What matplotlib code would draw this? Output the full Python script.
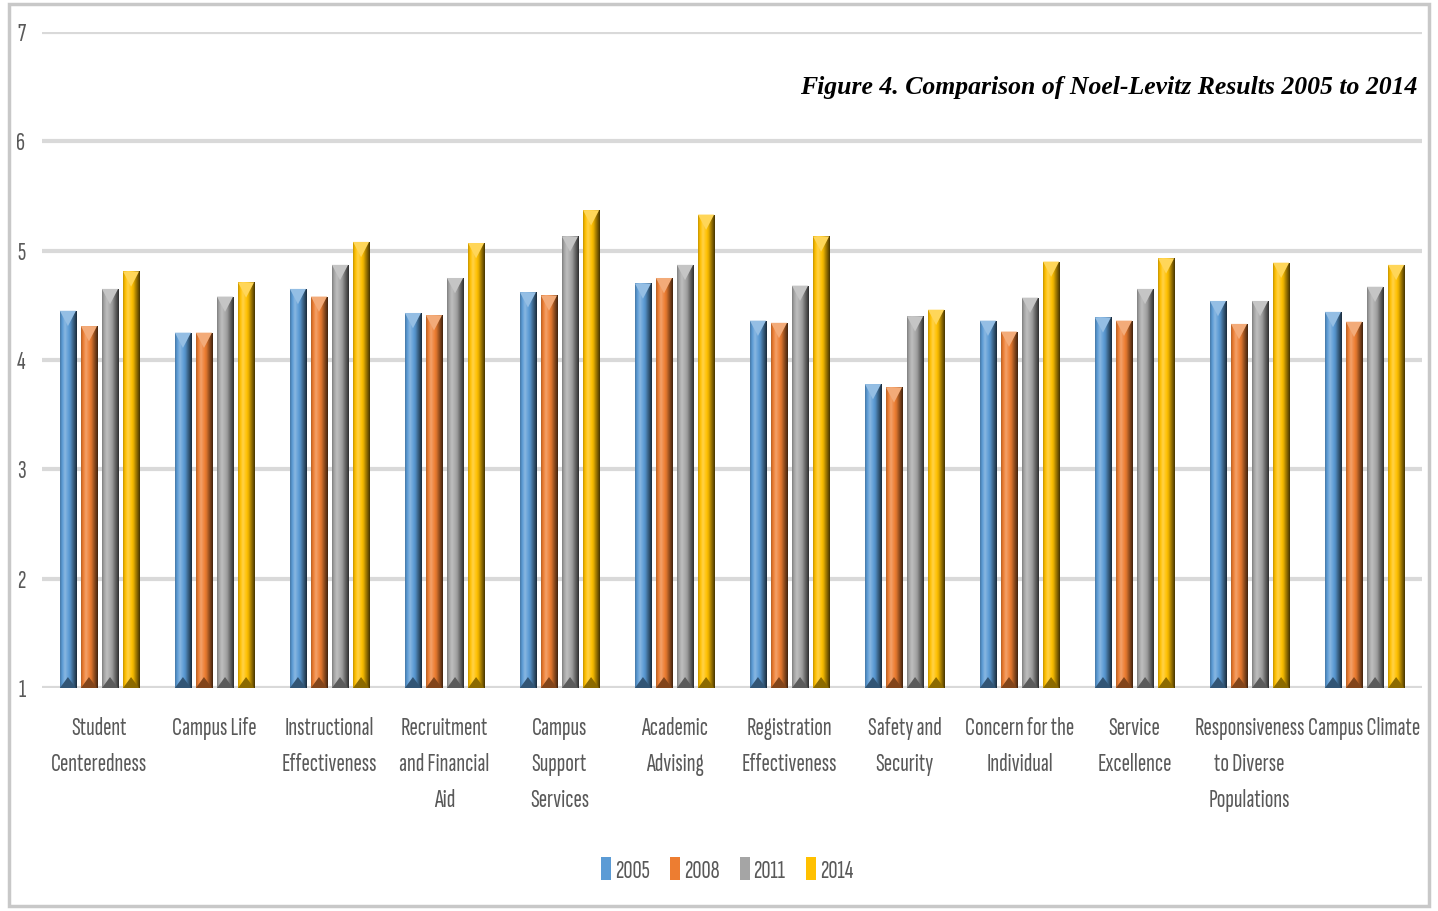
import matplotlib.pyplot as plt
import matplotlib.colors as mcolors
from matplotlib import font_manager as fm
from matplotlib.patches import Polygon, Rectangle
import numpy as np

categories = ["Student\nCenteredness", "Campus Life", "Instructional\nEffectiveness",
              "Recruitment\nand Financial\nAid", "Campus\nSupport\nServices",
              "Academic\nAdvising", "Registration\nEffectiveness", "Safety and\nSecurity",
              "Concern for the\nIndividual", "Service\nExcellence",
              "Responsiveness\nto Diverse\nPopulations", "Campus Climate"]
years = ["2005", "2008", "2011", "2014"]
v2005 = [4.45, 4.25, 4.65, 4.43, 4.62, 4.70, 4.36, 3.78, 4.36, 4.39, 4.54, 4.44]
v2008 = [4.31, 4.25, 4.58, 4.41, 4.59, 4.75, 4.34, 3.75, 4.26, 4.36, 4.33, 4.35]
v2011 = [4.65, 4.58, 4.87, 4.75, 5.13, 4.87, 4.68, 4.40, 4.57, 4.65, 4.54, 4.67]
v2014 = [4.81, 4.71, 5.08, 5.07, 5.37, 5.33, 5.13, 4.46, 4.90, 4.93, 4.89, 4.87]
series = [v2005, v2008, v2011, v2014]
colors = ["#5b9bd5", "#ed7d31", "#a5a5a5", "#ffc000"]
txtcol = "#595959"


def mix(c, f):
    c = np.array(mcolors.to_rgb(c))
    if f >= 1:
        return c + (1 - c) * (f - 1)
    return c * f


fig = plt.figure(figsize=(14.38, 9.11), dpi=100)
ax = fig.add_axes([0.0292, 0.2448, 0.9597, 0.7201])

# the original uses a tall narrow face (Calibri squeezed), pick the narrowest we have
cands = set()
for f in fm.fontManager.ttflist:
    if f.style == "normal" and f.weight in (400, "normal", "regular"):
        if ("Sans" in f.name or f.name in ("Roboto", "Lato", "Inter")) and "CJK" not in f.name \
                and "Mono" not in f.name:
            cands.add((f.name, str(f.stretch)))
renderer = fig.canvas.get_renderer()
best = None
for name, st in sorted(cands):
    t = fig.text(0, 0, "Responsiveness", family=name, stretch=st, fontsize=17)
    wpx = t.get_window_extent(renderer).width
    t.remove()
    if best is None or wpx < best[2]:
        best = (name, st, wpx)
fam, stretch = [best[0], "DejaVu Sans"], best[1]
fsz = min(20, 17 * 111 / best[2])

x = np.arange(len(categories))
w = 0.14
step = 0.183
prof = np.concatenate([np.linspace(0.8, 1.25, 6), np.linspace(1.25, 0.95, 6), np.linspace(0.9, 0.3, 8)])

for i, (vals, col) in enumerate(zip(series, colors)):
    pos = x + (i - 1.5) * step
    bars = ax.bar(pos, np.array(vals) - 1, w, bottom=1, color=col, label=years[i], zorder=3)
    grad = np.array([[mix(col, f) for f in prof]])
    for b, p, v in zip(bars, pos, vals):
        im = ax.imshow(np.clip(grad, 0, 1), extent=[p - w / 2, p + w / 2, 1, v],
                       aspect="auto", zorder=3.5, interpolation="bilinear")
        im.set_clip_path(b)
        ax.add_patch(Polygon([(p - w / 2, v), (p + w / 2, v), (p, v - 0.14)],
                             closed=True, color=mix(col, 1.35), zorder=4, lw=0))
        ax.add_patch(Polygon([(p - w / 2, 1), (p + w / 2, 1), (p, 1.1)],
                             closed=True, color=mix(col, 0.55), zorder=4, lw=0))

ax.set_xlim(-0.5, len(categories) - 0.5)
ax.set_ylim(1, 7)
ax.set_yticks(range(1, 8))
ax.yaxis.grid(True, color="#d9d9d9", lw=3)
ax.set_axisbelow(True)
for s in ax.spines.values():
    s.set_visible(False)
ax.tick_params(length=0)
ax.set_xticks(x)
ax.set_xticklabels(categories, family=fam, stretch=stretch, fontsize=fsz,
                   color=txtcol, linespacing=1.73)
ax.tick_params(axis="x", pad=21)
ax.tick_params(axis="y", pad=12)
for t in ax.get_yticklabels():
    t.set_family(fam)
    t.set_stretch(stretch)
    t.set_fontsize(fsz)
    t.set_color(txtcol)

ax.text(0.997, 0.915, "Figure 4. Comparison of Noel-Levitz Results 2005 to 2014",
        transform=ax.transAxes, ha="right", va="center", family="Liberation Serif",
        style="italic", weight="bold", fontsize=18.5, color="black")

leg = fig.legend(loc="center", bbox_to_anchor=(727 / 1438, 1 - 870 / 911), ncol=4,
                 frameon=False, handlelength=0.4, handleheight=1.0, handletextpad=0.15,
                 columnspacing=0.8, prop={"family": fam, "stretch": stretch, "size": fsz})
for t in leg.get_texts():
    t.set_color(txtcol)

fig.patches.append(Rectangle((0.006, 0.006), 0.988, 0.99, transform=fig.transFigure,
                             fill=False, edgecolor="#c8c8c8", lw=2.5))

fig.savefig("out.png", dpi=100)
